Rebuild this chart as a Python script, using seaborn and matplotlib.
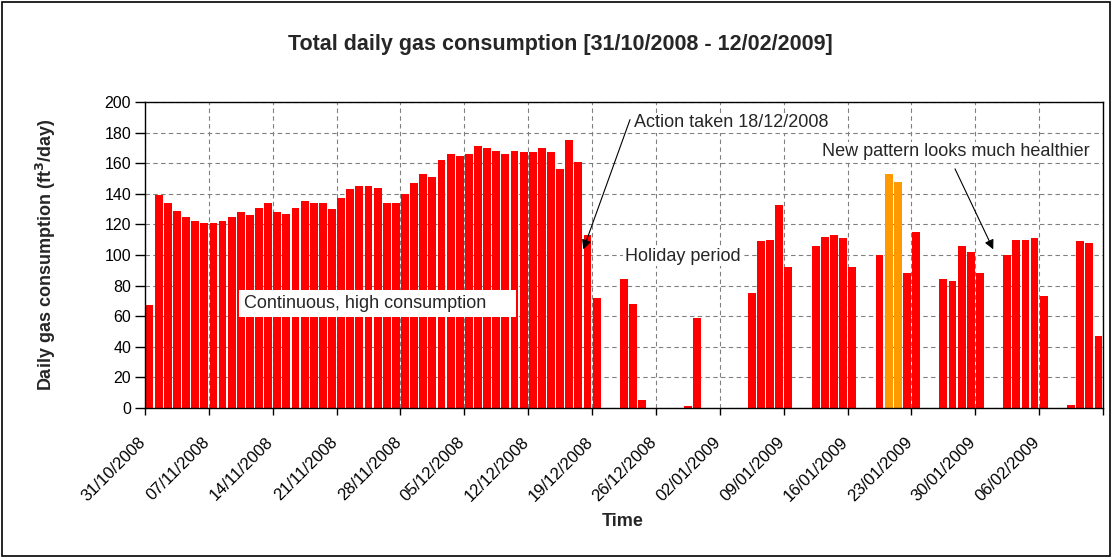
import matplotlib
matplotlib.use('Agg')
import matplotlib.pyplot as plt
import matplotlib.transforms as mtransforms
import seaborn as sns
import pandas as pd
from matplotlib.patches import Rectangle

# daily gas use, one value per day from 31/10/2008
start_date = '2008-10-31'
gas_per_day = [
    67, 139, 134, 129, 125, 122, 121,
    121, 122, 125, 128, 126, 131, 134,
    128, 127, 131, 135, 134, 134, 130,
    137, 143, 145, 145, 144, 134, 134,
    140, 147, 153, 151, 162, 166, 165,
    166, 171, 170, 168, 166, 168, 167,
    167, 170, 167, 156, 175, 161, 113,
    72, 0, 0, 84, 68, 5, 0,
    0, 0, 0, 1, 59, 0, 0,
    0, 0, 0, 75, 109, 110, 133,
    92, 0, 0, 106, 112, 113, 111,
    92, 0, 0, 100, 153, 148, 88,
    115, 0, 0, 84, 83, 106, 102,
    88, 0, 0, 100, 110, 110, 111,
    73, 0, 0, 2, 109, 108, 47,
]
highlight_days = ['20/01/2009', '21/01/2009']
bar_colors = {'normal': '#ff0000', 'highlight': '#ff9900'}
y_ticks = list(range(0, 201, 20))
tick_every = 7

days = list(pd.date_range(start_date, periods=len(gas_per_day), freq='D').strftime('%d/%m/%Y'))
tick_labels = days[::tick_every] + ['']

df = pd.DataFrame({'day': days, 'gas': gas_per_day})
df['kind'] = ['highlight' if d in highlight_days else 'normal' for d in df['day']]

sns.set_style('ticks')
plt.rcParams['font.family'] = ['Liberation Sans', 'DejaVu Sans']

fig = plt.figure(figsize=(11.13, 5.59), dpi=100)
ax = fig.add_axes([145 / 1113, 1 - 408 / 559, 958 / 1113, 306 / 559])

sns.barplot(data=df, x='day', y='gas', hue='kind', order=days, palette=bar_colors,
            dodge=False, legend=False, errorbar=None, saturation=1,
            width=0.86, linewidth=0, ax=ax)

ax.set_xlim(-0.5, len(days) - 0.5)
ax.set_ylim(0, 200)
ax.set_yticks(y_ticks)
ax.set_xticks([i - 0.5 for i in range(0, len(days) + 1, tick_every)])
ax.set_xticklabels(tick_labels, rotation=45, ha='right', rotation_mode='anchor', fontsize=12)
ax.tick_params(axis='x', length=5, width=1, pad=14, colors='black')
ax.tick_params(axis='y', length=7, width=1, pad=3, labelsize=11.5, colors='black')
# nudge the slanted date labels a little left, like the original
shift = mtransforms.ScaledTranslation(-0.07, 0, fig.dpi_scale_trans)
for lbl in ax.get_xticklabels():
    lbl.set_transform(lbl.get_transform() + shift)

ax.grid(True, color='#808080', linestyle=(0, (4, 3)), linewidth=0.8)
ax.set_axisbelow(True)
for side in ['top', 'right', 'left', 'bottom']:
    ax.spines[side].set_visible(True)
    ax.spines[side].set_color('black')
    ax.spines[side].set_linewidth(1)

ax.set_xlabel('Time', fontsize=13, fontweight='bold')
ax.xaxis.set_label_coords(0.499, -0.343)
ax.set_ylabel('Daily gas consumption (ft$^\\mathbf{3}$/day)', fontsize=13, fontweight='bold')
ax.yaxis.set_label_coords(-0.091, 0.5)

fig.text(0.5038, 0.921, 'Total daily gas consumption [31/10/2008 - 12/02/2009]',
         ha='center', va='center', fontsize=15.5, fontweight='bold')

# annotations
ax.add_patch(Rectangle((9.8, 59.6), 30.4, 17.5, facecolor='white', edgecolor='none', zorder=2.5))
ax.text(10.35, 68.6, 'Continuous, high consumption', fontsize=13, va='center', ha='left', zorder=3)
ax.text(52.1, 99.3, 'Holiday period', fontsize=13, va='center', ha='left',
        bbox=dict(facecolor='white', edgecolor='none', pad=1))
ax.text(53.1, 186.4, 'Action taken 18/12/2008', fontsize=13, va='center', ha='left',
        bbox=dict(facecolor='white', edgecolor='none', pad=1))
ax.text(73.7, 167.5, 'New pattern looks much healthier', fontsize=13, va='center', ha='left',
        bbox=dict(facecolor='white', edgecolor='none', pad=1))

arrow = dict(arrowstyle='-|>', color='black', lw=0.8, mutation_scale=14, shrinkA=0, shrinkB=0)
ax.annotate('', xy=(47.54, 103.7), xytext=(52.66, 188.5), arrowprops=arrow)
ax.annotate('', xy=(92.47, 103.7), xytext=(88.28, 156.3), arrowprops=arrow)

fig.add_artist(Rectangle((0.002, 0.005), 0.995, 0.991, transform=fig.transFigure,
                         fill=False, edgecolor='black', linewidth=1.2))

fig.savefig('out.png', dpi=100)
